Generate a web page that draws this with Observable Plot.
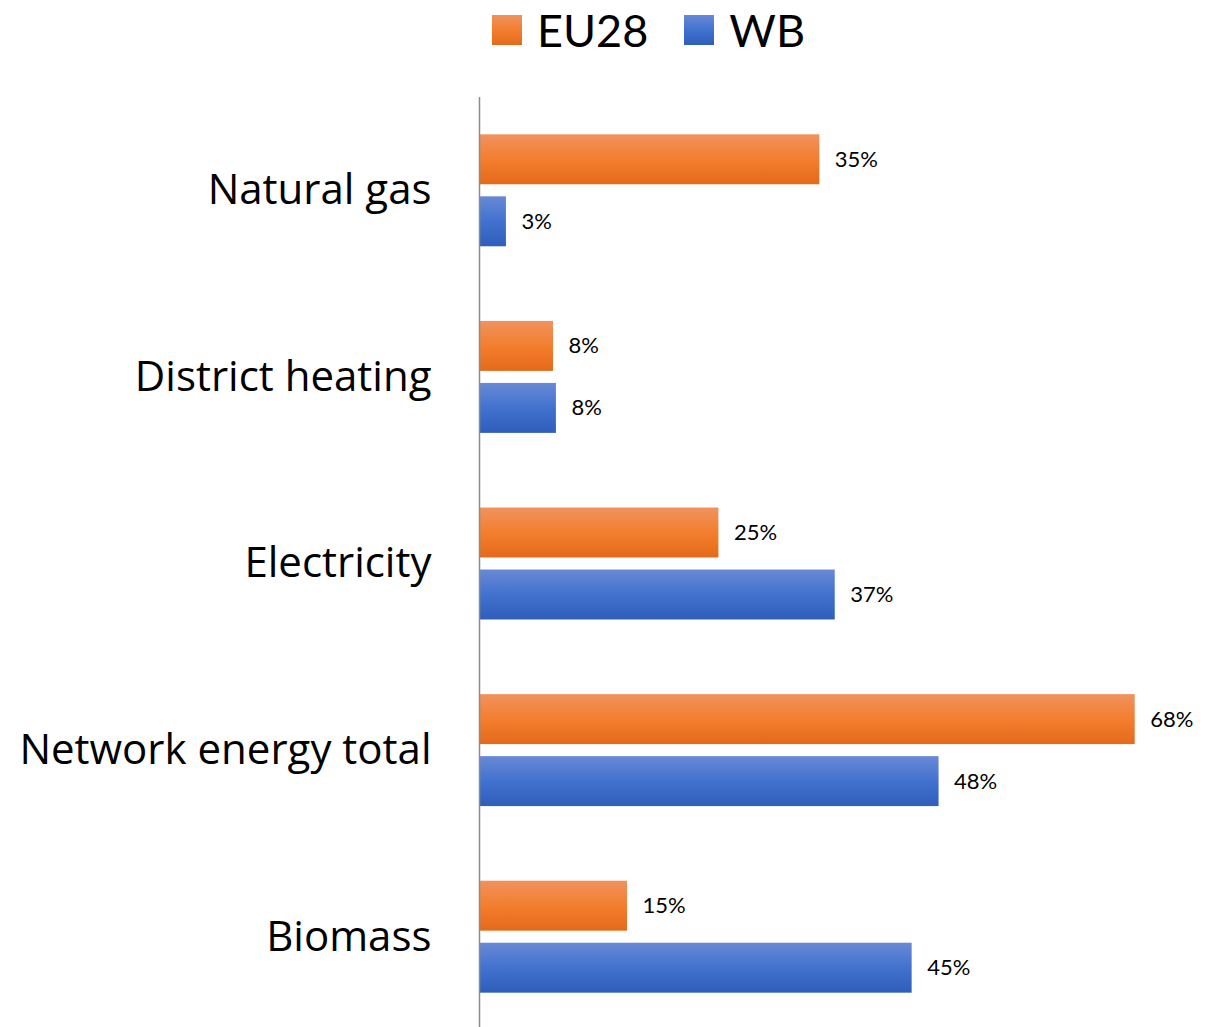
<!DOCTYPE html>
<html>
<head>
<meta charset="utf-8">
<script src="https://cdn.jsdelivr.net/npm/d3@7"></script>
<script src="https://cdn.jsdelivr.net/npm/@observablehq/plot@0.6"></script>
<style>
  html, body { margin: 0; padding: 0; background: #fff; overflow: hidden; }
  body { width: 1222px; height: 1027px; font-family: Lato, "Open Sans", sans-serif; }
  #legend { height: 60px; display: flex; align-items: center; padding-left: 492px; box-sizing: border-box; }
  .item { display: flex; align-items: center; margin-right: 36px; font-size: 45px; color: #000; }
  .sw { width: 30px; height: 30px; margin-right: 15px; }
  #chart svg { display: block; }
</style>
</head>
<body>
<div id="legend"></div>
<div id="chart"></div>
<script>
const categories = ["Natural gas", "District heating", "Electricity", "Network energy total", "Biomass"];
const seriesNames = ["EU28", "WB"];
const eu28 = [35.4, 7.7, 24.9, 68.2, 15.4];
const wb = [2.8, 8.0, 37.0, 47.8, 45.0];

const colors = {
  EU28: ["#f0925e", "#f37e2e", "#e46a1b"],
  WB: ["#6889d5", "#4272cf", "#2e5dba"]
};

const rows = [];
categories.forEach((c, i) => {
  rows.push({category: c, series: "EU28", value: eu28[i]});
  rows.push({category: c, series: "WB", value: wb[i]});
});
const euRows = rows.filter(d => d.series === "EU28");
const wbRows = rows.filter(d => d.series === "WB");
const fmt = v => Math.round(v) + "%";

// legend
const legend = document.getElementById("legend");
seriesNames.forEach(s => {
  const it = document.createElement("div");
  it.className = "item";
  const sw = document.createElement("div");
  sw.className = "sw";
  sw.style.background = `linear-gradient(${colors[s][0]}, ${colors[s][1]} 50%, ${colors[s][2]})`;
  it.appendChild(sw);
  it.appendChild(document.createTextNode(s));
  legend.appendChild(it);
});

const plot = Plot.plot({
  width: 1222,
  height: 970,
  marginTop: 37,
  marginBottom: 0,
  marginLeft: 479,
  marginRight: 70,
  style: {fontFamily: "Lato, 'Open Sans', sans-serif", color: "#000", background: "#fff"},
  x: {domain: [0, 70], axis: null},
  y: {domain: categories, paddingInner: 0.4, paddingOuter: 0.2, round: false, label: null},
  marks: [
    Plot.barX(euRows, {x: "value", y: "category", insetBottom: 62, fill: "url(#gradEU28)"}),
    Plot.barX(wbRows, {x: "value", y: "category", insetTop: 62, fill: "url(#gradWB)"}),
    Plot.text(euRows, {x: "value", y: "category", text: d => fmt(d.value), dy: -31, dx: 15, textAnchor: "start", fontSize: 22, fill: "#000"}),
    Plot.text(wbRows, {x: "value", y: "category", text: d => fmt(d.value), dy: 31, dx: 15, textAnchor: "start", fontSize: 22, fill: "#000"}),
    Plot.ruleX([0], {stroke: "#8c8c8c", strokeWidth: 1.5}),
    Plot.axisY({tickSize: 0, tickPadding: 48, fontSize: 42, fontFamily: "'Open Sans', Lato, sans-serif", label: null, fill: "#000"})
  ]
});

// gradient definitions for the bars
const ns = "http://www.w3.org/2000/svg";
const defs = document.createElementNS(ns, "defs");
seriesNames.forEach(s => {
  const g = document.createElementNS(ns, "linearGradient");
  g.setAttribute("id", "grad" + s);
  g.setAttribute("x1", "0"); g.setAttribute("y1", "0");
  g.setAttribute("x2", "0"); g.setAttribute("y2", "1");
  [[0, colors[s][0]], [0.5, colors[s][1]], [1, colors[s][2]]].forEach(([o, c]) => {
    const st = document.createElementNS(ns, "stop");
    st.setAttribute("offset", o);
    st.setAttribute("stop-color", c);
    g.appendChild(st);
  });
  defs.appendChild(g);
});
plot.insertBefore(defs, plot.firstChild);
document.getElementById("chart").appendChild(plot);
</script>
</body>
</html>
